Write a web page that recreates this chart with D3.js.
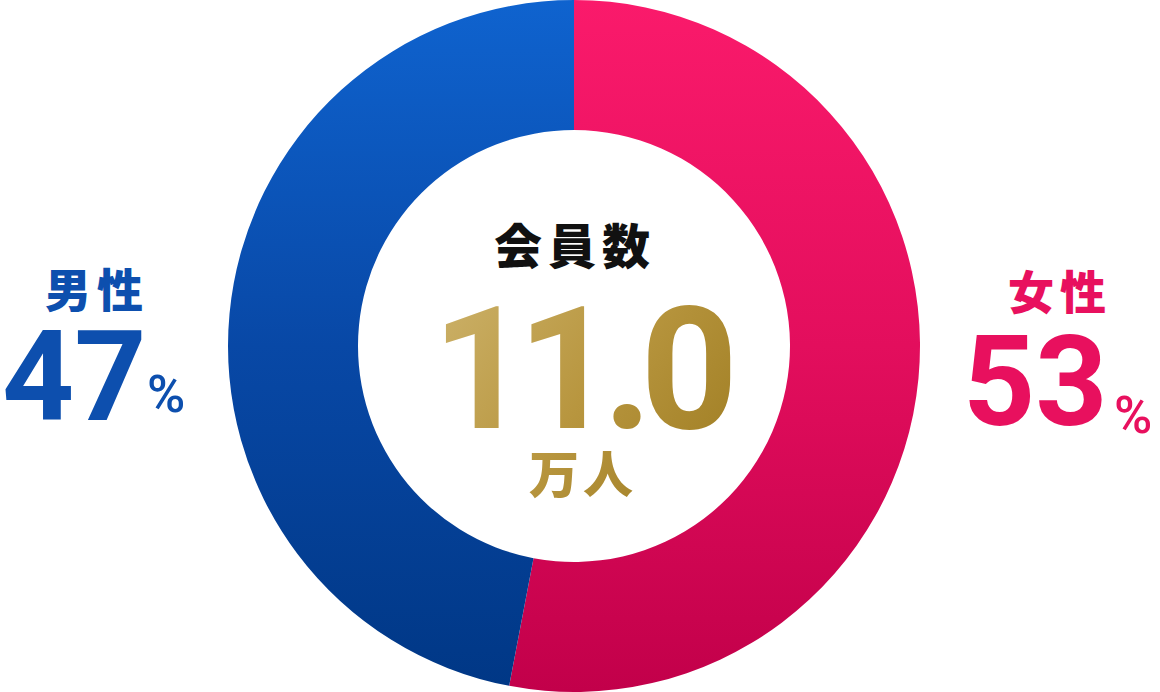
<!DOCTYPE html>
<html lang="ja">
<head>
  <meta charset="UTF-8">
  <title>会員数</title>
  <script src="https://cdn.jsdelivr.net/npm/d3@7"></script>
  <style>
    html, body { margin: 0; padding: 0; background: #fff; }
  </style>
</head>
<body>
  <div id="container"></div>
  <script>
    // データ
    const genders = ["女性", "男性"];
    const shares = [53, 47];
    const totalTitle = "会員数";
    const totalValue = "11.0";
    const totalUnit = "万人";

    const width = 1160;
    const height = 692;
    const cx = 574, cy = 346;
    const outerR = 346, innerR = 216;

    const svg = d3.select("#container")
      .append("svg")
      .attr("width", width)
      .attr("height", height)
      .attr("viewBox", [0, 0, width, height]);

    const defs = svg.append("defs");

    // グラデーション
    function grad(id, stops, x1, y1, x2, y2) {
      const g = defs.append("linearGradient")
        .attr("id", id)
        .attr("gradientUnits", "userSpaceOnUse")
        .attr("x1", x1).attr("y1", y1).attr("x2", x2).attr("y2", y2);
      stops.forEach(([o, c]) => g.append("stop").attr("offset", o).attr("stop-color", c));
    }
    // 円グラフは中心に移動したグループ内なので -R..R
    grad("g-female", [[0, "#fa1a6b"], [0.5, "#e30e5d"], [1, "#c2004a"]], 0, -outerR, 0, outerR);
    grad("g-male", [[0, "#0f63cf"], [0.5, "#0848a6"], [1, "#003785"]], 0, -outerR, 0, outerR);
    grad("g-gold", [[0, "#cbb067"], [0.5, "#b8963f"], [1, "#9f7d22"]], 440, 300, 720, 500);

    const color = d3.scaleOrdinal()
      .domain(genders)
      .range(["url(#g-female)", "url(#g-male)"]);

    const pie = d3.pie().sort(null).value((d, i) => shares[i]);
    const arc = d3.arc().innerRadius(innerR).outerRadius(outerR);

    svg.append("g")
      .attr("transform", `translate(${cx},${cy})`)
      .selectAll("path")
      .data(pie(genders))
      .join("path")
      .attr("d", arc)
      .attr("fill", d => color(d.data));

    const jp = "'Noto Sans CJK JP', 'Noto Sans', sans-serif";
    const num = "Roboto, 'Noto Sans', sans-serif";

    // 中央
    svg.append("text")
      .attr("x", 575).attr("y", 264)
      .attr("text-anchor", "middle")
      .attr("font-family", jp).attr("font-weight", 900)
      .attr("font-size", 48).attr("letter-spacing", 6)
      .attr("fill", "#111")
      .text(totalTitle);

    svg.append("text")
      .attr("x", 579).attr("y", 428)
      .attr("text-anchor", "middle")
      .attr("font-family", num).attr("font-weight", 700)
      .attr("font-size", 170).attr("letter-spacing", -12)
      .attr("fill", "url(#g-gold)")
      .text(totalValue);

    svg.append("text")
      .attr("x", 583).attr("y", 493)
      .attr("text-anchor", "middle")
      .attr("font-family", jp).attr("font-weight", 900)
      .attr("font-size", 50).attr("letter-spacing", 4)
      .attr("fill", "url(#g-gold)")
      .text(totalUnit);

    // ラベル
    const labels = [
      { name: genders[1], v: shares[1], fill: "#0d4fae", nx: 97, ny: 307, vx: 2, vy: 420, px: 147, py: 412 },
      { name: genders[0], v: shares[0], fill: "#e8105e", nx: 1060, ny: 309, vx: 963, vy: 425, px: 1114, py: 433 }
    ];

    labels.forEach(l => {
      svg.append("text")
        .attr("x", l.nx).attr("y", l.ny)
        .attr("text-anchor", "middle")
        .attr("font-family", jp).attr("font-weight", 900)
        .attr("font-size", 46).attr("letter-spacing", 6)
        .attr("fill", l.fill)
        .text(l.name);
      svg.append("text")
        .attr("x", l.vx).attr("y", l.vy)
        .attr("font-family", num).attr("font-weight", 700)
        .attr("font-size", 126)
        .attr("fill", l.fill)
        .text(l.v);
      svg.append("text")
        .attr("x", l.px).attr("y", l.py)
        .attr("font-family", num).attr("font-weight", 500)
        .attr("font-size", 52)
        .attr("fill", l.fill)
        .text("%");
    });
  </script>
</body>
</html>
